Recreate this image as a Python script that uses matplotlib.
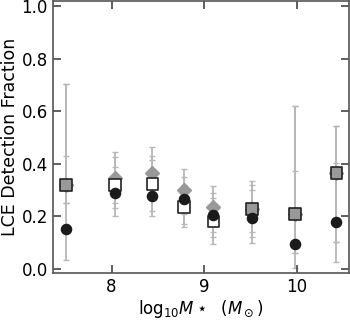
import matplotlib
matplotlib.use("Agg")
import matplotlib.pyplot as plt
import numpy as np

mass = [7.51, 8.04, 8.44, 8.78, 9.10, 9.52, 9.98, 10.43]

circ = [0.152, 0.288, 0.279, 0.267, 0.204, 0.193, 0.095, 0.178]
circ_lo = [0.034, 0.203, 0.203, 0.161, 0.123, 0.120, 0.003, 0.025]
circ_hi = [0.430, 0.388, 0.414, 0.349, 0.290, 0.300, 0.373, 0.402]

sq = [0.319, 0.319, 0.323, 0.235, 0.180, 0.228, 0.208, 0.366]
sq_lo = [0.252, 0.232, 0.220, 0.170, 0.094, 0.140, 0.060, 0.104]
sq_hi = [0.703, 0.427, 0.430, 0.320, 0.270, 0.336, 0.621, 0.545]

dia = [0.319, 0.346, 0.364, 0.300, 0.235, 0.228, 0.208, 0.366]
dia_lo = [0.252, 0.250, 0.270, 0.210, 0.142, 0.100, 0.060, 0.104]
dia_hi = [0.703, 0.446, 0.463, 0.381, 0.316, 0.320, 0.621, 0.545]

fig = plt.figure(figsize=(3.5, 3.21), dpi=100)
ax = fig.add_axes([0.151, 0.150, 0.846, 0.847])

ecol = '#b8b8b8'
def eb(x, y, lo, hi):
    y = np.array(y); lo = np.array(lo); hi = np.array(hi)
    ax.errorbar(x, y, yerr=[y - lo, hi - y], fmt='none', ecolor=ecol,
                elinewidth=1.3, capsize=2, capthick=1, zorder=1)

eb(mass, dia, dia_lo, dia_hi)
eb(mass, sq, sq_lo, sq_hi)
eb(mass, circ, circ_lo, circ_hi)

grey = '#999999'
ax.plot(mass, dia, 'D', ms=7, color=grey, mec=grey, zorder=3)
sq_arr = np.array(sq); dia_arr = np.array(dia)
same = np.isclose(sq_arr, dia_arr)
fc = [grey if s else 'white' for s in same]
ax.scatter(mass, sq, marker='s', s=70, facecolors=fc, edgecolors='#222222',
           linewidths=1.2, zorder=4)
ax.plot(mass, circ, 'o', ms=7.3, color='#1a1a1a', zorder=5)

ax.set_xlim(7.365, 10.565)
ax.set_ylim(-0.015, 1.02)
ax.set_xticks([8, 9, 10])
ax.set_yticks([0.0, 0.2, 0.4, 0.6, 0.8, 1.0])
ax.tick_params(direction='in', top=True, right=True, length=6, width=1.2,
               labelsize=12, color='#444444', pad=3.5)
for s in ax.spines.values():
    s.set_color('#555555')
    s.set_linewidth(1.2)
ax.set_ylabel('LCE Detection Fraction', fontsize=12.5, labelpad=2)
ax.set_xlabel(r'log$_{10}M\star\ \ (M_\odot)$', fontsize=12, labelpad=2)

fig.savefig('out.png', dpi=100)
